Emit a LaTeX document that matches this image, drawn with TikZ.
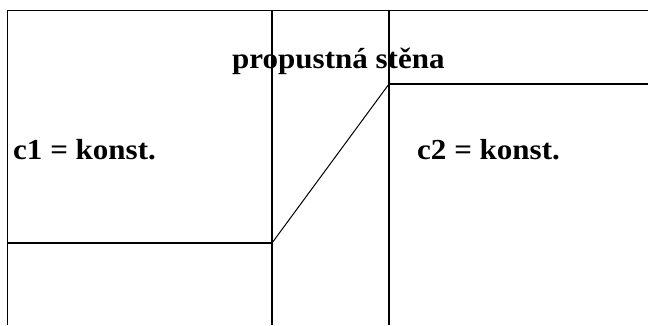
\documentclass[tikz,border=0pt]{standalone}
\usepackage{fontspec}
\setmainfont{Liberation Serif}
\begin{document}
\begin{tikzpicture}[x=1pt,y=-1pt,
  wall/.style={draw=black,line width=1.4pt},
  profile/.style={draw=black,line width=1pt},
  lbl/.style={inner sep=0pt,anchor=base west,font=\fontsize{29}{33}\selectfont\bfseries,xscale=1.07}]
\useasboundingbox (0,0) rectangle (648,325);
\coordinate (tl) at (7.5,10.5);
\coordinate (tr) at (648,10.5);
\coordinate (bl) at (7.5,325);
\coordinate (w1t) at (272,10.5);
\coordinate (w1b) at (272,325);
\coordinate (w2t) at (389,10.5);
\coordinate (w2b) at (389,325);
\coordinate (lowL) at (7.5,243);
\coordinate (lowR) at (272,243);
\coordinate (highL) at (389,84);
\coordinate (highR) at (648,84);
\draw[wall] (bl) -- (tl) -- (tr);
\draw[wall] (w1t) -- (w1b);
\draw[wall] (w2t) -- (w2b);
\draw[wall] (lowL) -- (lowR);
\draw[wall] (highL) -- (highR);
\draw[profile] (lowR) -- (highL);
\node[lbl] (wall) at (232,68) {propustná stěna};
\node[lbl] (c1) at (13,159) {c1 = konst.};
\node[lbl] (c2) at (417,159) {c2 = konst.};
\end{tikzpicture}
\end{document}
